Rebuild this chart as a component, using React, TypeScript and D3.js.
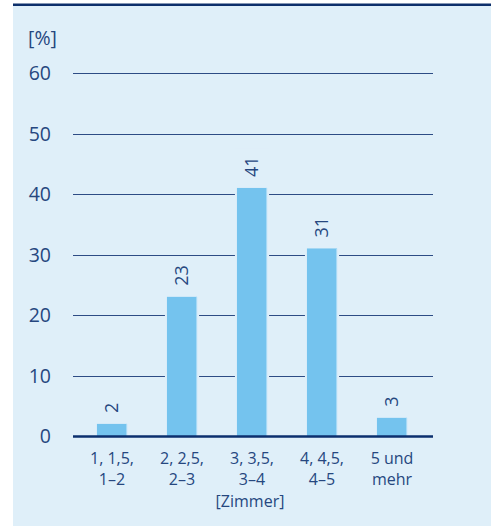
import { useEffect, useRef } from "react"
import * as d3 from "d3"

// Room-count categories (two-line labels) and shares in percent
const categories = ["1, 1,5,|1–2", "2, 2,5,|2–3", "3, 3,5,|3–4", "4, 4,5,|4–5", "5 und|mehr"]
const shares = [2, 23, 41, 31, 3]
const yTicks = [0, 10, 20, 30, 40, 50, 60]

const W = 491
const H = 526
const BG = "#dfeff9"
const TEXT = "#26477f"
const FONT = "'Open Sans', 'Noto Sans', sans-serif"

export default function App() {
  const svgRef = useRef<SVGSVGElement>(null)

  useEffect(() => {
    if (!svgRef.current) return
    const svg = d3.select(svgRef.current)
    svg.selectAll("*").remove()

    // panel background + top rule
    svg.append("rect").attr("x", 13).attr("y", 5).attr("width", W - 13).attr("height", H - 5).attr("fill", BG)
    svg.append("rect").attr("x", 13).attr("y", 3.5).attr("width", W - 13).attr("height", 2.5).attr("fill", "#0d2f6b")

    const x = d3.scaleBand<string>().domain(categories).range([77, 427]).paddingInner(0.57).paddingOuter(0.285)
    const y = d3.scaleLinear().domain([0, 60]).range([436, 73])

    // gridlines
    svg.append("g")
      .selectAll("line")
      .data(yTicks.filter((d) => d > 0))
      .join("line")
      .attr("x1", 73)
      .attr("x2", 433)
      .attr("y1", (d) => Math.round(y(d)) + 0.5)
      .attr("y2", (d) => Math.round(y(d)) + 0.5)
      .attr("stroke", "#2d4c85")
      .attr("stroke-width", 1)

    // y tick labels
    svg.append("g")
      .selectAll("text")
      .data(yTicks)
      .join("text")
      .attr("x", 51)
      .attr("y", (d) => y(d))
      .attr("dy", "0.36em")
      .attr("text-anchor", "end")
      .attr("font-family", FONT)
      .attr("font-size", 19.5)
      .attr("fill", TEXT)
      .text((d) => d)

    svg.append("text")
      .attr("x", 28)
      .attr("y", 45)
      .attr("font-family", FONT)
      .attr("font-size", 19.5)
      .attr("fill", TEXT)
      .text("[%]")

    const bars = svg.append("g")
    const bw = x.bandwidth()

    shares.forEach((v, i) => {
      const cx = x(categories[i])! + bw / 2
      const top = y(v)
      const grp = bars.append("g")
      const cover = grp.append("rect").attr("fill", BG)

      const label = grp
        .append("text")
        .attr("transform", `translate(${cx},${top - 11}) rotate(-90)`)
        .attr("dy", "0.36em")
        .attr("font-family", FONT)
        .attr("font-size", 18)
        .attr("fill", TEXT)
        .text(v)
      const len = (label.node() as SVGTextElement).getComputedTextLength()

      // background box behind bar and value label (cuts the gridlines)
      cover
        .attr("x", cx - bw / 2 - 2)
        .attr("width", bw + 4)
        .attr("y", top - 11 - len - 8)
        .attr("height", y(0) - (top - 11 - len - 8))

      grp.append("rect")
        .attr("x", cx - bw / 2)
        .attr("width", bw)
        .attr("y", top)
        .attr("height", y(0) - top)
        .attr("fill", "#74c3ee")
      grp.append("rect")
        .attr("x", cx + bw / 2 - 1)
        .attr("width", 1)
        .attr("y", top)
        .attr("height", y(0) - top)
        .attr("fill", "#a9dbf5")
    })

    // baseline
    svg.append("line")
      .attr("x1", 73)
      .attr("x2", 433)
      .attr("y1", 436.5)
      .attr("y2", 436.5)
      .attr("stroke", "#0b2f6e")
      .attr("stroke-width", 2.5)

    // category labels
    const cat = svg.append("g")
    categories.forEach((c) => {
      const cx = x(c)! + bw / 2
      c.split("|").forEach((line, j) => {
        cat.append("text")
          .attr("x", cx)
          .attr("y", 464 + j * 21)
          .attr("text-anchor", "middle")
          .attr("font-family", FONT)
          .attr("font-size", 16)
          .attr("fill", TEXT)
          .text(line)
      })
    })

    svg.append("text")
      .attr("x", 250)
      .attr("y", 507)
      .attr("text-anchor", "middle")
      .attr("font-family", FONT)
      .attr("font-size", 16)
      .attr("fill", TEXT)
      .text("[Zimmer]")
  }, [])

  return (
    <svg
      ref={svgRef}
      width={W}
      height={H}
      style={{ position: "absolute", left: 0, top: 0, background: "#ffffff" }}
    />
  )
}
